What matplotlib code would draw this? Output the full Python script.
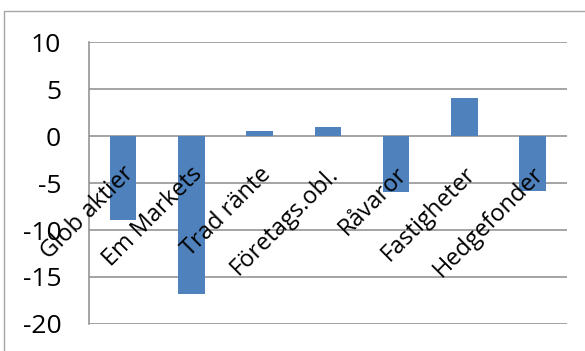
import matplotlib

matplotlib.use("Agg")
import matplotlib.pyplot as plt
from matplotlib.patches import Rectangle
from matplotlib.transforms import ScaledTranslation

# Avkastning per tillgångsslag (%)
categories = ["Glob aktier", "Em Markets", "Trad ränte", "Företags.obl.",
              "Råvaror", "Fastigheter", "Hedgefonder"]
returns = [-8.9, -16.8, 0.5, 1.0, -6.0, 4.0, -5.8]
y_ticks = [-20, -15, -10, -5, 0, 5, 10]

BAR_COLOR = "#4F81BD"
GRID_COLOR = "#8C8C8C"

plt.rcParams["font.family"] = ["Open Sans", "DejaVu Sans"]
plt.rcParams["axes.unicode_minus"] = False

fig = plt.figure(figsize=(5.85, 3.51), dpi=100)
ax = fig.add_axes([0.152, 0.077, 0.817, 0.803])

# grey frame around the whole chart area
fig.patches.append(Rectangle((4 / 585, -0.1), 1.2, 1 - 11 / 351 + 0.1,
                             transform=fig.transFigure, fill=False,
                             edgecolor="#A6A6A6", lw=1.0))

x = range(len(categories))
ax.bar(x, returns, width=0.39, color=BAR_COLOR, zorder=2)

ax.set_xlim(-0.5, len(categories) - 0.5)
ax.set_ylim(-20, 10)
ax.set_yticks(y_ticks)
ax.tick_params(axis="y", length=0, pad=20, labelsize=19)
ax.yaxis.grid(True, color=GRID_COLOR, lw=1.1, zorder=1)
ax.set_axisbelow(True)

for side in ("top", "right", "bottom"):
    ax.spines[side].set_visible(False)
ax.spines["left"].set_color(GRID_COLOR)
ax.spines["left"].set_linewidth(1.1)

# category axis crosses at zero, rotated labels drawn over the bars
ax.set_xticks([])
offset = ScaledTranslation(-1 / 100, -26 / 100, fig.dpi_scale_trans)
for i, name in enumerate(categories):
    ax.text(i, 0, name, rotation=45, rotation_mode="anchor",
            ha="right", va="top", fontsize=17, zorder=3,
            transform=ax.transData + offset)

fig.savefig("out.png", dpi=100)
